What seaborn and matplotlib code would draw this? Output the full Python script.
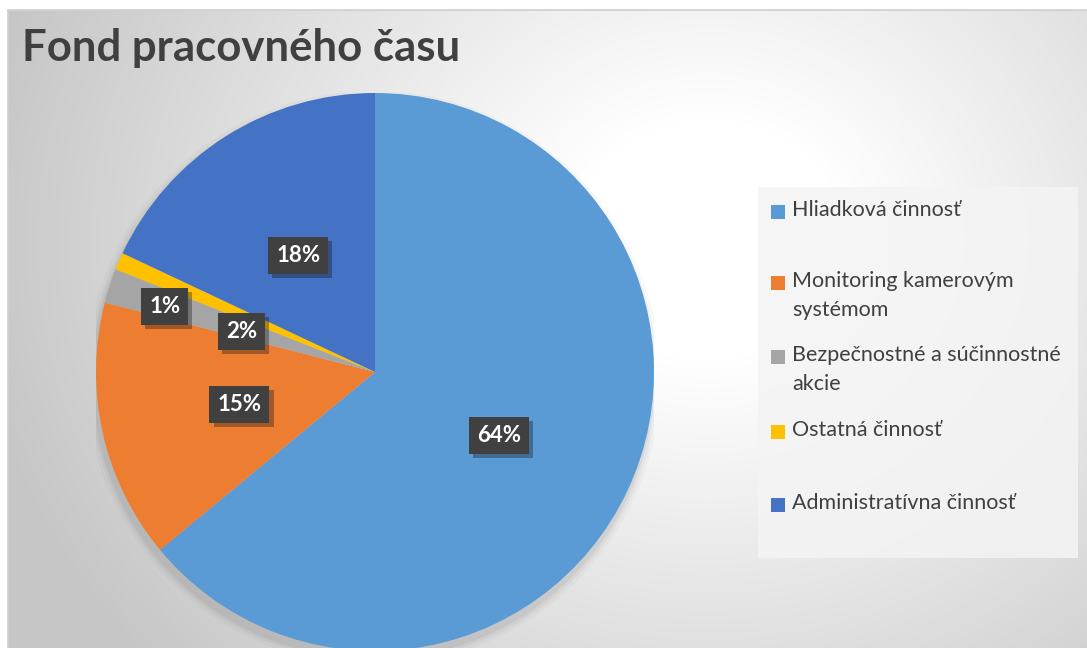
import numpy as np
import seaborn as sns
import matplotlib.pyplot as plt
import matplotlib.patheffects as pe
from matplotlib.patches import Circle, Rectangle

# data
categories = ["Hliadková činnosť", "Monitoring kamerovým\nsystémom",
              "Bezpečnostné a súčinnostné\nakcie", "Ostatná činnosť",
              "Administratívna činnosť"]
values = [64, 15, 2, 1, 18]
label_texts = ["64%", "15%", "2%", "1%", "18%"]
colors = sns.color_palette(["#5B9BD5", "#ED7D31", "#A5A5A5", "#FFC000", "#4472C4"])

sns.set_theme(style="white")
plt.rcParams['font.family'] = ['Lato', 'DejaVu Sans']

W, H = 1087, 648
fig = plt.figure(figsize=(W / 100, H / 100), dpi=100, facecolor="white")

# background with radial gradient (chart area)
bg = fig.add_axes([8 / W, 0, 1 - 8 / W, 1 - 10 / H])
yy, xx = np.mgrid[0:638, 0:1079]
d = np.sqrt(((xx - 700) / 1.15) ** 2 + ((yy - 230) / 1.0) ** 2)
g = np.clip(1 - 0.22 * np.clip((d - 120) / 520, 0, 1), 0, 1)
bg.imshow(np.dstack([g, g, g]), aspect="auto", extent=[0, 1, 0, 1], origin="upper")
bg.set_xlim(0, 1)
bg.set_ylim(0, 1)
bg.set_xticks([])
bg.set_yticks([])
for s in bg.spines.values():
    s.set_visible(False)
bg.spines["top"].set_visible(True)
bg.spines["left"].set_visible(True)
bg.spines["top"].set_color("#d0d0d0")
bg.spines["left"].set_color("#d0d0d0")
bg.set_zorder(0)

# pie axes: center (375, 372), radius 279 px
r = 279
ax = fig.add_axes([(375 - r) / W, (H - 372 - r) / H, 2 * r / W, 2 * r / H])
ax.set_zorder(1)
ax.patch.set_alpha(0)
# soft shadow behind the pie
for k, a in [(1.03, 0.025), (1.018, 0.035), (1.008, 0.05)]:
    ax.add_patch(Circle((-0.006, -0.022), k, color="black", alpha=a, lw=0, zorder=0))
wedges, _ = ax.pie(values, colors=colors, startangle=90, counterclock=False,
                   radius=1, wedgeprops=dict(linewidth=0))
ax.set_xlim(-1, 1)
ax.set_ylim(-1, 1)
ax.set_aspect("equal")
ax.axis("off")

# data labels
label_r = [0.5, 0.5, 0.5, 0.79, 0.5]
label_shift = [-2, 1, 1, 6, 1]
for w, txt, lr, sh in zip(wedges, label_texts, label_r, label_shift):
    ang = np.deg2rad((w.theta1 + w.theta2) / 2 + sh)
    t = ax.text(lr * np.cos(ang), lr * np.sin(ang), txt, ha="center", va="center",
                fontsize=16, fontweight="bold", color="white",
                bbox=dict(boxstyle="square,pad=0.36", fc="#404040", ec="none"))
    t.get_bbox_patch().set_path_effects([pe.SimplePatchShadow(offset=(3, -3), alpha=0.35),
                                         pe.Normal()])

# title
fig.text(22 / W, 1 - 48 / H, "Fond pracovného času", fontsize=31.5, fontweight="bold",
         color="#404040", ha="left", va="center")

# legend (drawn by hand to keep the Excel spacing)
fig.patches.append(Rectangle((758 / W, 1 - 558 / H), (1078 - 758) / W, (558 - 187) / H,
                             transform=fig.transFigure, fc="#f4f4f4", ec="none",
                             alpha=0.85, zorder=2))
legend_y = [212, 283, 357, 432, 505]
for cat, c, yv in zip(categories, colors, legend_y):
    fig.patches.append(Rectangle((771 / W, 1 - (yv + 7) / H), 14 / W, 14 / H,
                                 transform=fig.transFigure, fc=c, ec="none", zorder=3))
    fig.text(792 / W, 1 - (yv - 12) / H, cat, fontsize=15.5, color="#404040",
             ha="left", va="top", linespacing=1.55, zorder=3)

fig.savefig("out.png", dpi=100, facecolor="white")
